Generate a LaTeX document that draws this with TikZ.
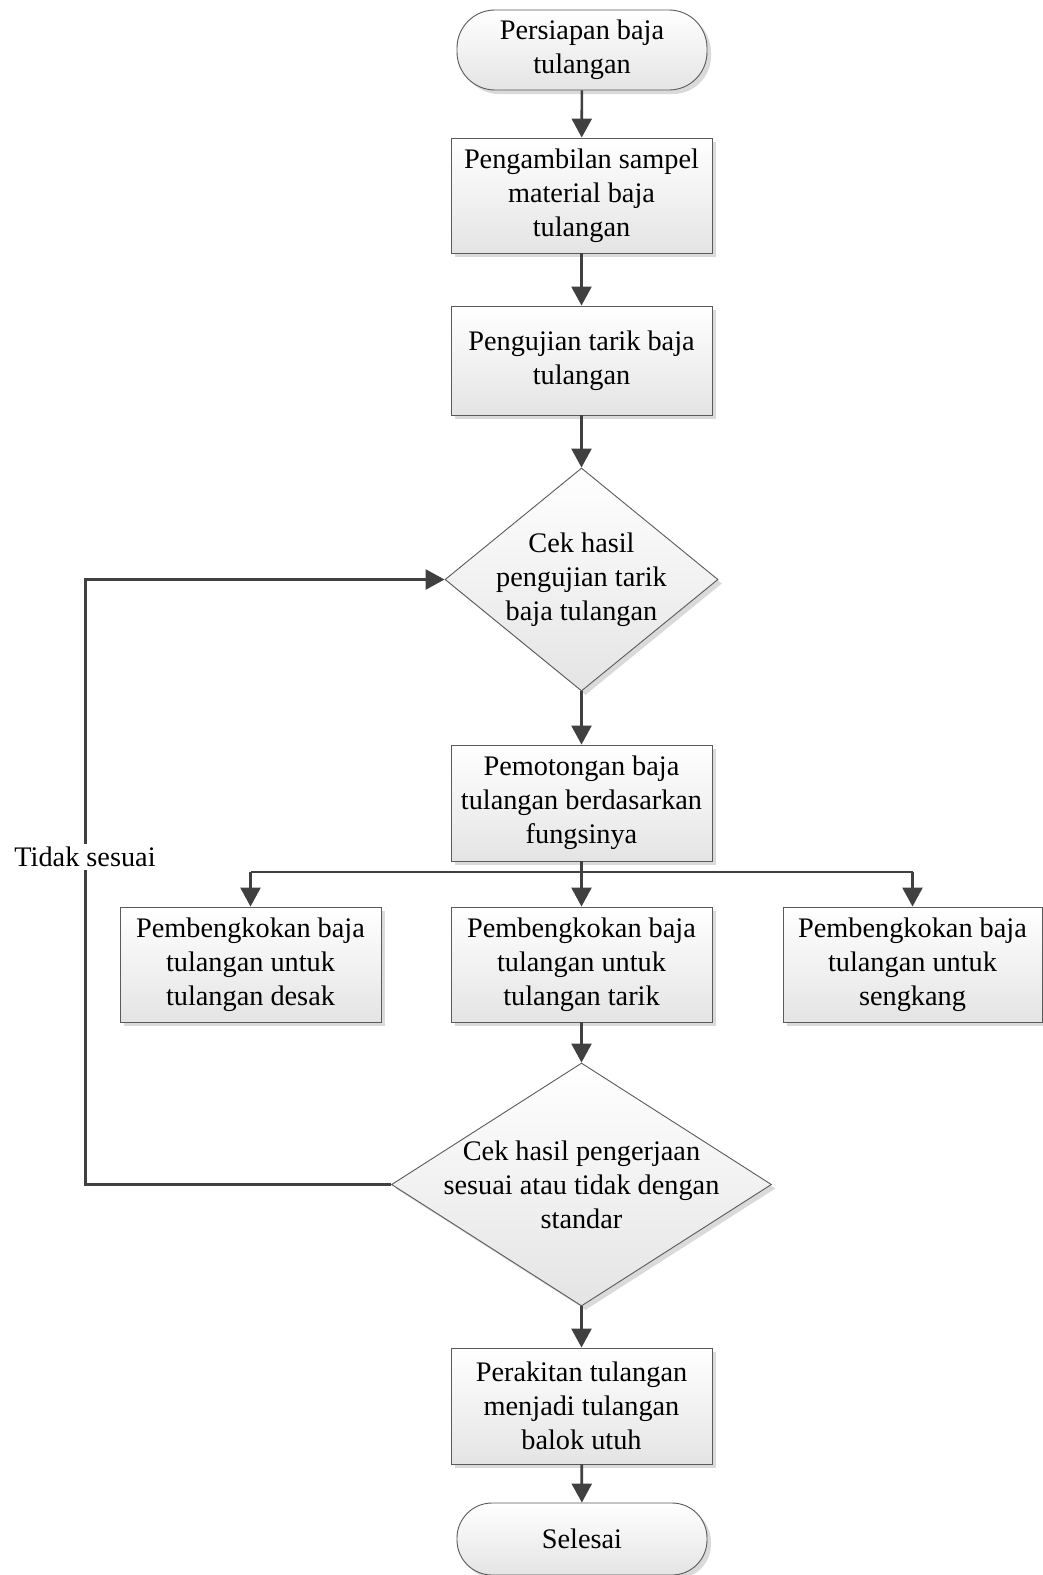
\documentclass[tikz,border=0pt]{standalone}
\usepackage{fontspec}
\setmainfont{Liberation Serif}
\usetikzlibrary{shapes.geometric,arrows.meta,shadows}
\definecolor{linec}{HTML}{404040}
\definecolor{borderc}{HTML}{5A5A5A}
\definecolor{shadec}{HTML}{E4E4E4}
\definecolor{shadowc}{HTML}{DADADA}
\begin{document}
\begin{tikzpicture}[x=1pt,y=-1pt,
  base/.style={draw=borderc, line width=0.9pt, top color=white, bottom color=shadec,
    drop shadow={shadow xshift=4pt, shadow yshift=-4pt, fill=shadowc, opacity=1}},
  procbox/.style={base, rectangle, minimum width=261pt, minimum height=115pt, inner sep=0pt,
    align=center, font=\fontsize{28.3}{34}\selectfont},
  termbox/.style={base, rectangle, rounded corners=38pt, minimum width=250pt, inner sep=0pt,
    align=center, font=\fontsize{28.3}{34}\selectfont},
  diabox/.style={base, diamond, inner sep=0pt},
  txt/.style={align=center, font=\fontsize{28.3}{34}\selectfont, inner sep=0pt},
  conn/.style={draw=linec, line width=2.6pt, -{Triangle[length=19pt,width=20pt]}},
  plain/.style={draw=linec, line width=2.6pt}
]
\useasboundingbox (0,0) rectangle (1042,1575);

\node[termbox, minimum height=80pt] (start) at (582,50) {Persiapan baja\\tulangan};
\node[procbox] (b1) at (581.5,195.5) {Pengambilan sampel\\material baja\\tulangan};
\node[procbox, minimum height=109pt] (b2) at (581.5,360.5) {Pengujian tarik baja\\tulangan};
\node[diabox, minimum width=273pt, minimum height=223pt] (d1) at (581.5,579.5) {};
\node[txt] (d1t) at (d1.center) {Cek hasil\\pengujian tarik\\baja tulangan};
\node[procbox, minimum height=116pt] (b3) at (581.5,803) {Pemotongan baja\\tulangan berdasarkan\\fungsinya};
\node[procbox] (bl) at (250.5,964.5) {Pembengkokan baja\\tulangan untuk\\tulangan desak};
\node[procbox] (bm) at (581.5,964.5) {Pembengkokan baja\\tulangan untuk\\tulangan tarik};
\node[procbox, minimum width=259pt] (br) at (912.5,964.5) {Pembengkokan baja\\tulangan untuk\\sengkang};
\node[diabox, minimum width=380pt, minimum height=243pt] (d2) at (581.5,1184.5) {};
\node[txt] (d2t) at (d2.center) {Cek hasil pengerjaan\\sesuai atau tidak dengan\\standar};
\node[procbox, minimum height=116pt] (b4) at (581.5,1406) {Perakitan tulangan\\menjadi tulangan\\balok utuh};
\node[termbox, minimum height=72pt, rounded corners=35pt] (end) at (582,1539) {Selesai};

\draw[conn] (start) -- (b1);
\draw[conn] (b1) -- (b2);
\draw[conn] (b2) -- (d1);
\draw[conn] (d1) -- (b3);
\coordinate (jl) at (250.5,872);
\coordinate (jr) at (912.5,872);
\draw[conn] (b3) -- (bm);
\draw[plain] (jl) -- (jr);
\draw[conn] (jl) -- (bl);
\draw[conn] (jr) -- (br);
\draw[conn] (bm) -- (d2);
\draw[conn] (d2) -- (b4);
\draw[conn] (b4) -- (end);

\coordinate (fb) at (85.5,1184.5);
\draw[conn] (d2.west) -- (fb) |- (d1.west);
\node[txt, fill=white, inner sep=3pt] (lbl) at (85,857) {Tidak sesuai};
\end{tikzpicture}
\end{document}
